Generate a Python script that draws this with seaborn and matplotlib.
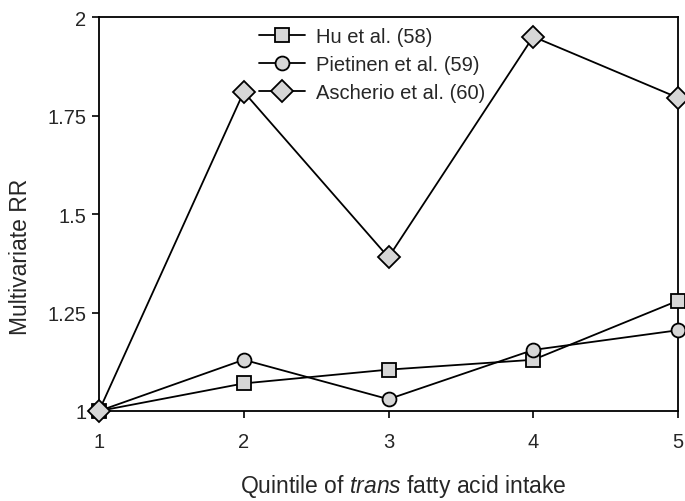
import matplotlib
matplotlib.use("Agg")
import matplotlib.pyplot as plt
import seaborn as sns
import pandas as pd

quintiles = [1, 2, 3, 4, 5]
hu = [1.00, 1.07, 1.105, 1.13, 1.28]
pietinen = [1.00, 1.13, 1.03, 1.155, 1.205]
ascherio = [1.00, 1.81, 1.39, 1.95, 1.795]
labels = ["Hu et al. (58)", "Pietinen et al. (59)", "Ascherio et al. (60)"]
markers = ["s", "o", "D"]
yticks = [1, 1.25, 1.5, 1.75, 2]
ytick_labels = ["1", "1.25", "1.5", "1.75", "2"]

sns.set_theme(style="white")
plt.rcParams["font.family"] = ["Liberation Sans", "DejaVu Sans"]
plt.rcParams["mathtext.fontset"] = "custom"
plt.rcParams["mathtext.it"] = "Liberation Sans:italic"
plt.rcParams["mathtext.rm"] = "Liberation Sans"

W, H = 685, 502
fig = plt.figure(figsize=(W / 100, H / 100), dpi=100)
ax = fig.add_axes([99 / W, 1 - 412 / H, 579 / W, 394 / H])

fs = 14.5
lfs = 16.5
msizes = [9.5, 10, 11]
for vals, lab, m, ms in zip([hu, pietinen, ascherio], labels, markers, msizes):
    df = pd.DataFrame({"q": quintiles, "rr": vals})
    sns.lineplot(data=df, x="q", y="rr", ax=ax, color="black", linewidth=1.3,
                 marker=m, markersize=ms, markerfacecolor="#d6d6d6",
                 markeredgecolor="black", markeredgewidth=1.3,
                 clip_on=False, label=lab, zorder=3)

ax.set_xlim(1, 5)
ax.set_ylim(1, 2)
ax.set_xticks(quintiles)
ax.set_xticklabels([str(q) for q in quintiles], fontsize=fs)
ax.set_yticks(yticks)
ax.set_yticklabels(ytick_labels, fontsize=fs)
ax.tick_params(axis="both", direction="out", length=5, width=1.2, color="black",
               left=True, bottom=True)
ax.tick_params(axis="x", pad=10)
ax.tick_params(axis="y", pad=4)
for s in ax.spines.values():
    s.set_visible(True)
    s.set_color("black")
    s.set_linewidth(1.3)

ax.set_xlabel("")
ax.set_ylabel("")
fig.text(403 / W, 1 - 487 / H, r"Quintile of $\it{trans}$ fatty acid intake",
         fontsize=lfs, ha="center", va="center")
fig.text(21 / W, 1 - 257 / H, "Multivariate RR", fontsize=lfs, rotation=90,
         ha="center", va="center")

leg = ax.legend(loc="upper left", bbox_to_anchor=(0.262, 0.995), frameon=False,
                fontsize=fs, handlelength=2.3, handletextpad=0.55, labelspacing=0.45,
                borderaxespad=0)

fig.savefig("out.png", dpi=100)
